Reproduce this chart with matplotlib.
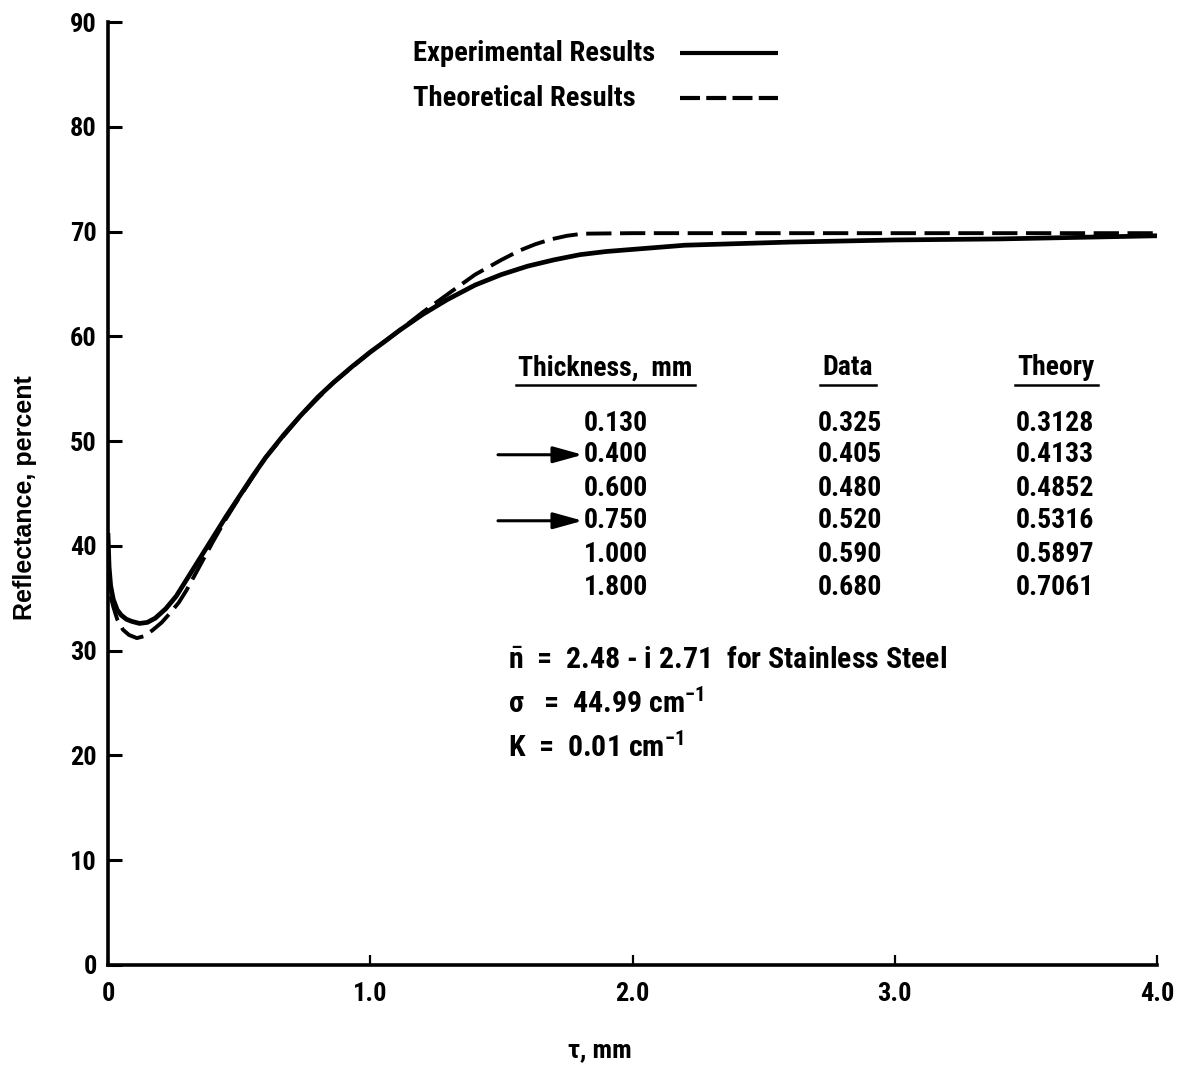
import matplotlib
matplotlib.use("Agg")
import matplotlib.pyplot as plt
from matplotlib import font_manager
from matplotlib.lines import Line2D
from matplotlib.transforms import IdentityTransform

# curve values
exp_x = [0.0, 0.004, 0.01, 0.02, 0.035, 0.05, 0.07, 0.09, 0.12, 0.15, 0.18, 0.22,
         0.26, 0.3, 0.35, 0.4, 0.45, 0.5, 0.55, 0.6, 0.67, 0.733, 0.8, 0.86, 0.93,
         1.0, 1.06, 1.113, 1.2, 1.293, 1.4, 1.5, 1.6, 1.7, 1.8, 1.9, 2.0, 2.2,
         2.6, 3.0, 3.4, 4.0]
exp_y = [41.0, 38.0, 36.2, 34.9, 33.9, 33.4, 33.0, 32.8, 32.6, 32.7, 33.1, 34.0,
         35.2, 36.8, 38.8, 40.8, 42.8, 44.7, 46.6, 48.4, 50.6, 52.4, 54.2, 55.6, 57.1,
         58.5, 59.6, 60.6, 62.1, 63.5, 64.9, 65.9, 66.7, 67.3, 67.8, 68.1, 68.3, 68.7,
         69.0, 69.2, 69.3, 69.6]

th_x = [0.01, 0.02, 0.035, 0.057, 0.08, 0.11, 0.14, 0.172, 0.205, 0.237, 0.27, 0.3,
        0.35, 0.4, 0.45, 0.5, 0.6, 0.733, 0.86, 1.0, 1.113, 1.2, 1.305, 1.4, 1.5,
        1.57, 1.63, 1.687, 1.75, 1.81, 2.0, 3.0, 4.0]
th_y = [35.2, 34.2, 33.0, 32.0, 31.5, 31.2, 31.4, 32.0, 32.7, 33.6, 34.6, 35.8,
        38.1, 40.4, 42.6, 44.6, 48.4, 52.4, 55.6, 58.5, 60.6, 62.3, 64.2, 65.9, 67.3,
        68.2, 68.8, 69.25, 69.6, 69.8, 69.85, 69.85, 69.85]

thickness = ["0.130", "0.400", "0.600", "0.750", "1.000", "1.800"]
data_vals = ["0.325", "0.405", "0.480", "0.520", "0.590", "0.680"]
theory_vals = ["0.3128", "0.4133", "0.4852", "0.5316", "0.5897", "0.7061"]
arrow_rows = [1, 3]

xticks = [0, 1, 2, 3, 4]
xtick_labels = ["0", "1.0", "2.0", "3.0", "4.0"]
yticks = list(range(0, 100, 10))

names = {f.name for f in font_manager.fontManager.ttflist}
narrow = "DejaVu Sans"
for cand in ["Roboto Condensed", "Liberation Sans Narrow", "Open Sans Condensed"]:
    if cand in names:
        narrow = cand
        break
plain = "Liberation Sans" if "Liberation Sans" in names else "DejaVu Sans"

plt.rcParams["font.family"] = [narrow, "DejaVu Sans"]
plt.rcParams["font.weight"] = "bold"
plt.rcParams["mathtext.fontset"] = "custom"
plt.rcParams["mathtext.rm"] = narrow + ":bold"
plt.rcParams["mathtext.it"] = narrow + ":bold"
plt.rcParams["mathtext.bf"] = narrow + ":bold"

fig = plt.figure(figsize=(11.78, 10.65), dpi=100)
ax = fig.add_axes([0.0917, 0.0939, 0.8905, 0.8854])

ax.plot(exp_x, exp_y, color="black", lw=3.4, solid_joinstyle="round")
ax.plot(th_x, th_y, color="black", lw=2.8, dashes=(6.5, 2.2))

ax.set_xlim(0, 4)
ax.set_ylim(0, 90)
for s in ["top", "right"]:
    ax.spines[s].set_visible(False)
for s in ["left", "bottom"]:
    ax.spines[s].set_linewidth(2.6)

ax.set_xticks(xticks)
ax.set_xticklabels(xtick_labels)
ax.set_yticks(yticks)
ax.tick_params(axis="y", direction="in", length=10, width=2.2, labelsize=19, pad=8)
ax.tick_params(axis="x", direction="in", length=7, width=1.6, labelsize=19, pad=12)

ax.set_xlabel("τ, mm", fontsize=19, fontweight="bold")
ax.xaxis.set_label_coords(0.469, -0.078)
ax.set_ylabel("Reflectance, percent", fontsize=18, fontweight="bold", family=plain)
ax.yaxis.set_label_coords(-0.068, 0.496)

# key, top middle
key_labels = ["Experimental Results", "Theoretical Results"]
key_y = [0.967, 0.919]
for lab, ky, ls in zip(key_labels, key_y, ["solid", (0, (4.8, 1.5))]):
    ax.text(0.2908, ky, lab, transform=ax.transAxes, fontsize=20.5,
            ha="left", va="center")
    ax.plot([0.5453, 0.6387], [ky, ky], transform=ax.transAxes, color="black",
            lw=3, linestyle=ls, solid_capstyle="butt", clip_on=False)

# table
hdr_y = 57.0
row_y = [51.7, 48.7, 45.5, 42.4, 39.2, 36.0]
hdrs = [ax.text(1.563, hdr_y, "Thickness,  mm", fontsize=20, ha="left", va="center"),
        ax.text(2.82, hdr_y, "Data", fontsize=20, ha="center", va="center"),
        ax.text(3.615, hdr_y, "Theory", fontsize=20, ha="center", va="center")]
for i in range(len(thickness)):
    ax.text(2.059, row_y[i], thickness[i], fontsize=20, ha="right", va="center")
    ax.text(2.951, row_y[i], data_vals[i], fontsize=20, ha="right", va="center")
    ax.text(3.76, row_y[i], theory_vals[i], fontsize=20, ha="right", va="center")
for r in arrow_rows:
    ax.annotate("", xy=(1.81, row_y[r]), xytext=(1.487, row_y[r]),
                arrowprops=dict(arrowstyle="-|>,head_length=1.8,head_width=0.5",
                                color="black", lw=2.2, shrinkA=0, shrinkB=0))

ax.text(1.525, 29.1, r"$\bar{\mathrm{n}}$  =  2.48 - i 2.71  for Stainless Steel",
        fontsize=21.5, ha="left", va="center")
ax.text(1.525, 25.0, r"σ   =  44.99 cm$^{-1}$", fontsize=21.5, ha="left", va="center")
ax.text(1.525, 20.8, r"K  =  0.01 cm$^{-1}$", fontsize=21.5, ha="left", va="center")

# underline the table headers
fig.canvas.draw()
r = fig.canvas.get_renderer()
for t in hdrs:
    bb = t.get_window_extent(renderer=r)
    fig.add_artist(Line2D([bb.x0 - 2, bb.x1 + 3], [bb.y0 - 4, bb.y0 - 4],
                          color="black", lw=1.8, transform=IdentityTransform()))

fig.savefig("out.png", dpi=100)
